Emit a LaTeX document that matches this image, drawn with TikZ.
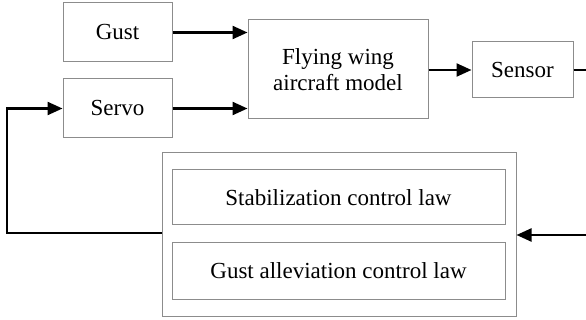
\documentclass[tikz,border=0pt]{standalone}
\usepackage{fontspec}
\setmainfont{Liberation Serif}
\usetikzlibrary{arrows.meta}
\tikzset{
  block/.style={draw=black!45, line width=1pt, inner sep=0pt, align=center,
    text=black, font=\fontsize{23}{26}\selectfont},
  flow/.style={draw=black, line width=2.3pt,
    -{Triangle[length=15pt,width=13pt]}},
  wire/.style={draw=black, line width=2.3pt}
}
\begin{document}
\begin{tikzpicture}[x=1pt,y=-1pt]
  \useasboundingbox (0,0) rectangle (586,320);
  % input and plant blocks
  \node[block, minimum width=109pt, minimum height=59pt] (gust) at (117.5,32.5) {Gust};
  \node[block, minimum width=109pt, minimum height=59pt] (servo) at (117.5,108.5) {Servo};
  \node[block, minimum width=180pt, minimum height=99pt] (plant) at (338,69.5) {Flying wing\\aircraft model};
  \node[block, minimum width=101pt, minimum height=56pt] (sensor) at (522.5,70) {Sensor};
  % controller with its two control laws
  \node[block, minimum width=354pt, minimum height=163pt] (ctrl) at (339,234.5) {};
  \node[block, minimum width=333pt, minimum height=55pt] (law1) at (338.5,197.5) {Stabilization control law};
  \node[block, minimum width=333pt, minimum height=56pt] (law2) at (338.5,271) {Gust alleviation control law};
  % loose ends leaving and entering at the right edge
  \coordinate (out) at (586,70);
  \coordinate (in) at (586,235);
  \coordinate (fbcorner) at (7,233);
  % connectors
  \draw[flow] (gust.east) -- (gust.east -| plant.west);
  \draw[flow] (servo.east) -- (servo.east -| plant.west);
  \draw[flow] (plant.east |- sensor.west) -- (sensor.west);
  \draw[wire] (sensor.east) -- (out);
  \draw[flow] (in) -- (in -| ctrl.east);
  \draw[flow] (ctrl.west |- fbcorner) -- (fbcorner) |- (servo.west);
\end{tikzpicture}
\end{document}
